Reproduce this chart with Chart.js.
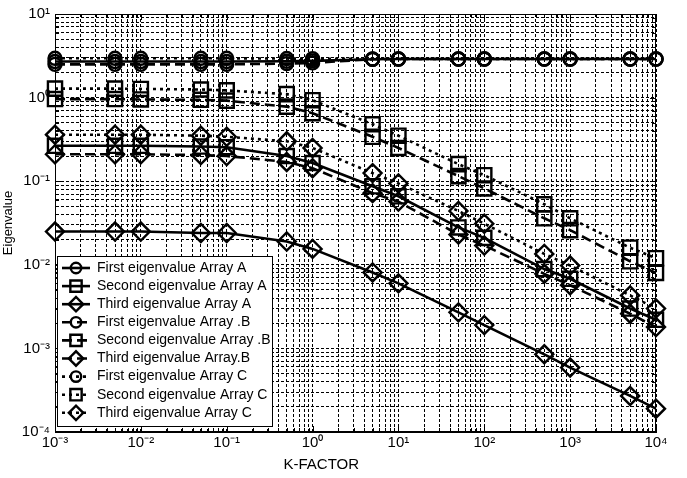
<!DOCTYPE html>
<html>
<head>
<meta charset="utf-8">
<script src="https://cdn.jsdelivr.net/npm/chart.js@4/dist/chart.umd.min.js"></script>
<style>
  html, body { margin: 0; padding: 0; background: #fff; }
  #wrap { width: 687px; height: 478px; }
</style>
</head>
<body>
<div id="wrap"><canvas id="chart"></canvas></div>
<script>
// K-factor sample points
const kFactor = [0.001, 0.005, 0.01, 0.05, 0.1, 0.5, 1, 5, 10, 50, 100, 500, 1000, 5000, 10000];

// eigenvalues
const firstA  = [2.7, 2.7, 2.7, 2.7, 2.7, 2.72, 2.75, 2.88, 2.9, 2.9, 2.9, 2.9, 2.9, 2.9, 2.9];
const secondA = [0.265, 0.265, 0.265, 0.26, 0.255, 0.2, 0.165, 0.087, 0.066, 0.028, 0.021, 0.0089, 0.0068, 0.003, 0.0022];
const thirdA  = [0.025, 0.025, 0.025, 0.024, 0.024, 0.019, 0.0155, 0.0081, 0.006, 0.0027, 0.0019, 0.00085, 0.00059, 0.00027, 0.00019];
const firstB  = [2.5, 2.5, 2.5, 2.5, 2.5, 2.55, 2.6, 2.88, 2.9, 2.9, 2.9, 2.9, 2.9, 2.9, 2.9];
const secondB = [0.96, 0.96, 0.95, 0.94, 0.92, 0.78, 0.65, 0.34, 0.25, 0.115, 0.082, 0.036, 0.026, 0.011, 0.008];
const thirdB  = [0.21, 0.21, 0.21, 0.205, 0.2, 0.17, 0.143, 0.072, 0.057, 0.023, 0.017, 0.0078, 0.0057, 0.0026, 0.0018];
const firstC  = [2.95, 2.95, 2.95, 2.95, 2.95, 2.93, 2.92, 2.9, 2.9, 2.9, 2.9, 2.9, 2.9, 2.9, 2.9];
const secondC = [1.28, 1.28, 1.27, 1.25, 1.22, 1.1, 0.93, 0.48, 0.35, 0.16, 0.118, 0.053, 0.036, 0.016, 0.012];
const thirdC  = [0.36, 0.36, 0.36, 0.35, 0.34, 0.3, 0.25, 0.125, 0.094, 0.044, 0.031, 0.0135, 0.0098, 0.0043, 0.003];

const seriesLabels = [
  "First eigenvalue Array A", "Second eigenvalue Array A", "Third eigenvalue Array A",
  "First eigenvalue Array .B", "Second eigenvalue Array .B", "Third eigenvalue Array.B",
  "First eigenvalue Array C", "Second eigenvalue Array C", "Third eigenvalue Array C"
];
const seriesData = [firstA, secondA, thirdA, firstB, secondB, thirdB, firstC, secondC, thirdC];

// decades used for tick labels
const xDecades = [-3, -2, -1, 0, 1, 2, 3, 4];
const yDecades = [-4, -3, -2, -1, 0, 1];
const xTitle = "K-FACTOR";

const SOLID = [], DASHED = [10, 5], DOTTED = [3, 4];
const dashes  = [SOLID, SOLID, SOLID, DASHED, DASHED, DASHED, DOTTED, DOTTED, DOTTED];
const markers = ["circle", "rect", "rectRot"];
const radii   = { circle: 6.5, rect: 10, rectRot: 9 };

function logTicks(decades) {
  const out = [];
  decades.forEach((d, i) => {
    const base = Math.pow(10, d);
    out.push(base);
    if (i < decades.length - 1) for (let m = 2; m <= 9; m++) out.push(m * base);
  });
  return out;
}

const SUP = { "-": "\u207B", "0": "\u2070", "1": "\u00B9", "2": "\u00B2", "3": "\u00B3", "4": "\u2074" };
function powLabel(v) {
  const e = Math.log10(v);
  if (Math.abs(e - Math.round(e)) > 1e-6) return "";
  return "10" + String(Math.round(e)).split("").map(c => SUP[c]).join("");
}

Chart.defaults.font.family = "'Liberation Sans', Arial, sans-serif";
Chart.defaults.color = "#000";

const datasets = seriesData.map((vals, i) => {
  const style = markers[i % 3];
  return {
    label: seriesLabels[i],
    data: kFactor.map((k, j) => ({ x: k, y: vals[j] })),
    borderColor: "#000",
    borderWidth: 2.6,
    borderDash: dashes[i],
    tension: 0,
    clip: 14,
    pointStyle: style,
    pointRadius: radii[style],
    pointBorderWidth: 2.4,
    pointBorderColor: "#000",
    pointBackgroundColor: "rgba(0,0,0,0)",
    pointHoverRadius: radii[style],
  };
});

const frameAndLegend = {
  id: "frameAndLegend",
  afterDraw(chart) {
    const ctx = chart.ctx;
    const a = chart.chartArea;
    ctx.save();
    // axes box
    ctx.setLineDash([]);
    ctx.strokeStyle = "#000";
    ctx.lineWidth = 1;
    ctx.strokeRect(a.left + 0.5, a.top + 0.5, a.right - a.left - 1, a.bottom - a.top - 1);
    // inward ticks
    ctx.beginPath();
    chart.scales.x.ticks.forEach(t => {
      const px = Math.round(chart.scales.x.getPixelForValue(t.value)) + 0.5;
      const len = t.label ? 6 : 4;
      ctx.moveTo(px, a.bottom); ctx.lineTo(px, a.bottom - len);
      ctx.moveTo(px, a.top); ctx.lineTo(px, a.top + len);
    });
    chart.scales.y.ticks.forEach(t => {
      const py = Math.round(chart.scales.y.getPixelForValue(t.value)) + 0.5;
      const len = t.label ? 6 : 4;
      ctx.moveTo(a.left, py); ctx.lineTo(a.left + len, py);
      ctx.moveTo(a.right, py); ctx.lineTo(a.right - len, py);
    });
    ctx.stroke();

    // x axis title (sits left of centre in the original)
    ctx.fillStyle = "#000";
    ctx.font = "15px 'Liberation Sans', Arial, sans-serif";
    ctx.textAlign = "center";
    ctx.textBaseline = "middle";
    ctx.fillText(xTitle, a.left + (a.right - a.left) * 0.443, a.bottom + 33);

    // legend box in lower left of plot
    const bx = a.left + 2, bw = 215, bh = 170;
    const by = a.bottom - 6 - bh;
    ctx.fillStyle = "#fff";
    ctx.fillRect(bx, by, bw, bh);
    ctx.strokeRect(bx + 0.5, by + 0.5, bw, bh);
    const rowH = 18.1;
    ctx.font = "14px 'Liberation Sans', Arial, sans-serif";
    ctx.textAlign = "left";
    chart.data.datasets.forEach((ds, i) => {
      const y = by + 12 + i * rowH;
      ctx.strokeStyle = "#000";
      ctx.lineWidth = ds.borderWidth;
      ctx.setLineDash(ds.borderDash);
      ctx.beginPath();
      ctx.moveTo(bx + 5, y); ctx.lineTo(bx + 33, y);
      ctx.stroke();
      ctx.setLineDash([]);
      ctx.lineWidth = ds.pointBorderWidth;
      ctx.fillStyle = "rgba(0,0,0,0)";
      Chart.helpers.drawPoint(ctx, {
        pointStyle: ds.pointStyle, radius: ds.pointRadius * 0.8, rotation: 0, borderWidth: ds.pointBorderWidth
      }, bx + 19, y);
      ctx.fillStyle = "#000";
      ctx.fillText(ds.label, bx + 40, y);
    });
    ctx.restore();
  }
};

new Chart(document.getElementById("chart"), {
  type: "line",
  data: { datasets: datasets },
  options: {
    responsive: true,
    maintainAspectRatio: false,
    animation: false,
    layout: { padding: { left: 0, top: 12, right: 31, bottom: 0 } },
    scales: {
      x: {
        type: "logarithmic",
        min: 1e-3,
        max: 1e4,
        afterBuildTicks: s => { s.ticks = logTicks(xDecades).map(v => ({ value: v })); },
        afterFit: s => { s.height = 46; },
        ticks: {
          autoSkip: false, maxRotation: 0, padding: 2,
          font: { size: 15 },
          callback: v => powLabel(v)
        },
        grid: { color: "#000", lineWidth: 1, drawTicks: false },
        border: { display: true, color: "#000", dash: [3, 2] },
        title: { display: false }
      },
      y: {
        type: "logarithmic",
        min: 1e-4,
        max: 1e1,
        afterBuildTicks: s => { s.ticks = logTicks(yDecades).map(v => ({ value: v })); },
        afterFit: s => { s.width = 55; },
        ticks: {
          autoSkip: false, padding: 5,
          font: { size: 15 },
          callback: v => powLabel(v)
        },
        grid: { color: "#000", lineWidth: 1, drawTicks: false },
        border: { display: true, color: "#000", dash: [3, 2] },
        title: { display: true, text: "Eigenvalue", font: { size: 13 }, padding: { top: 1, bottom: 0 } }
      }
    },
    plugins: {
      legend: { display: false },
      tooltip: { enabled: false }
    }
  },
  plugins: [frameAndLegend]
});
</script>
</body>
</html>
